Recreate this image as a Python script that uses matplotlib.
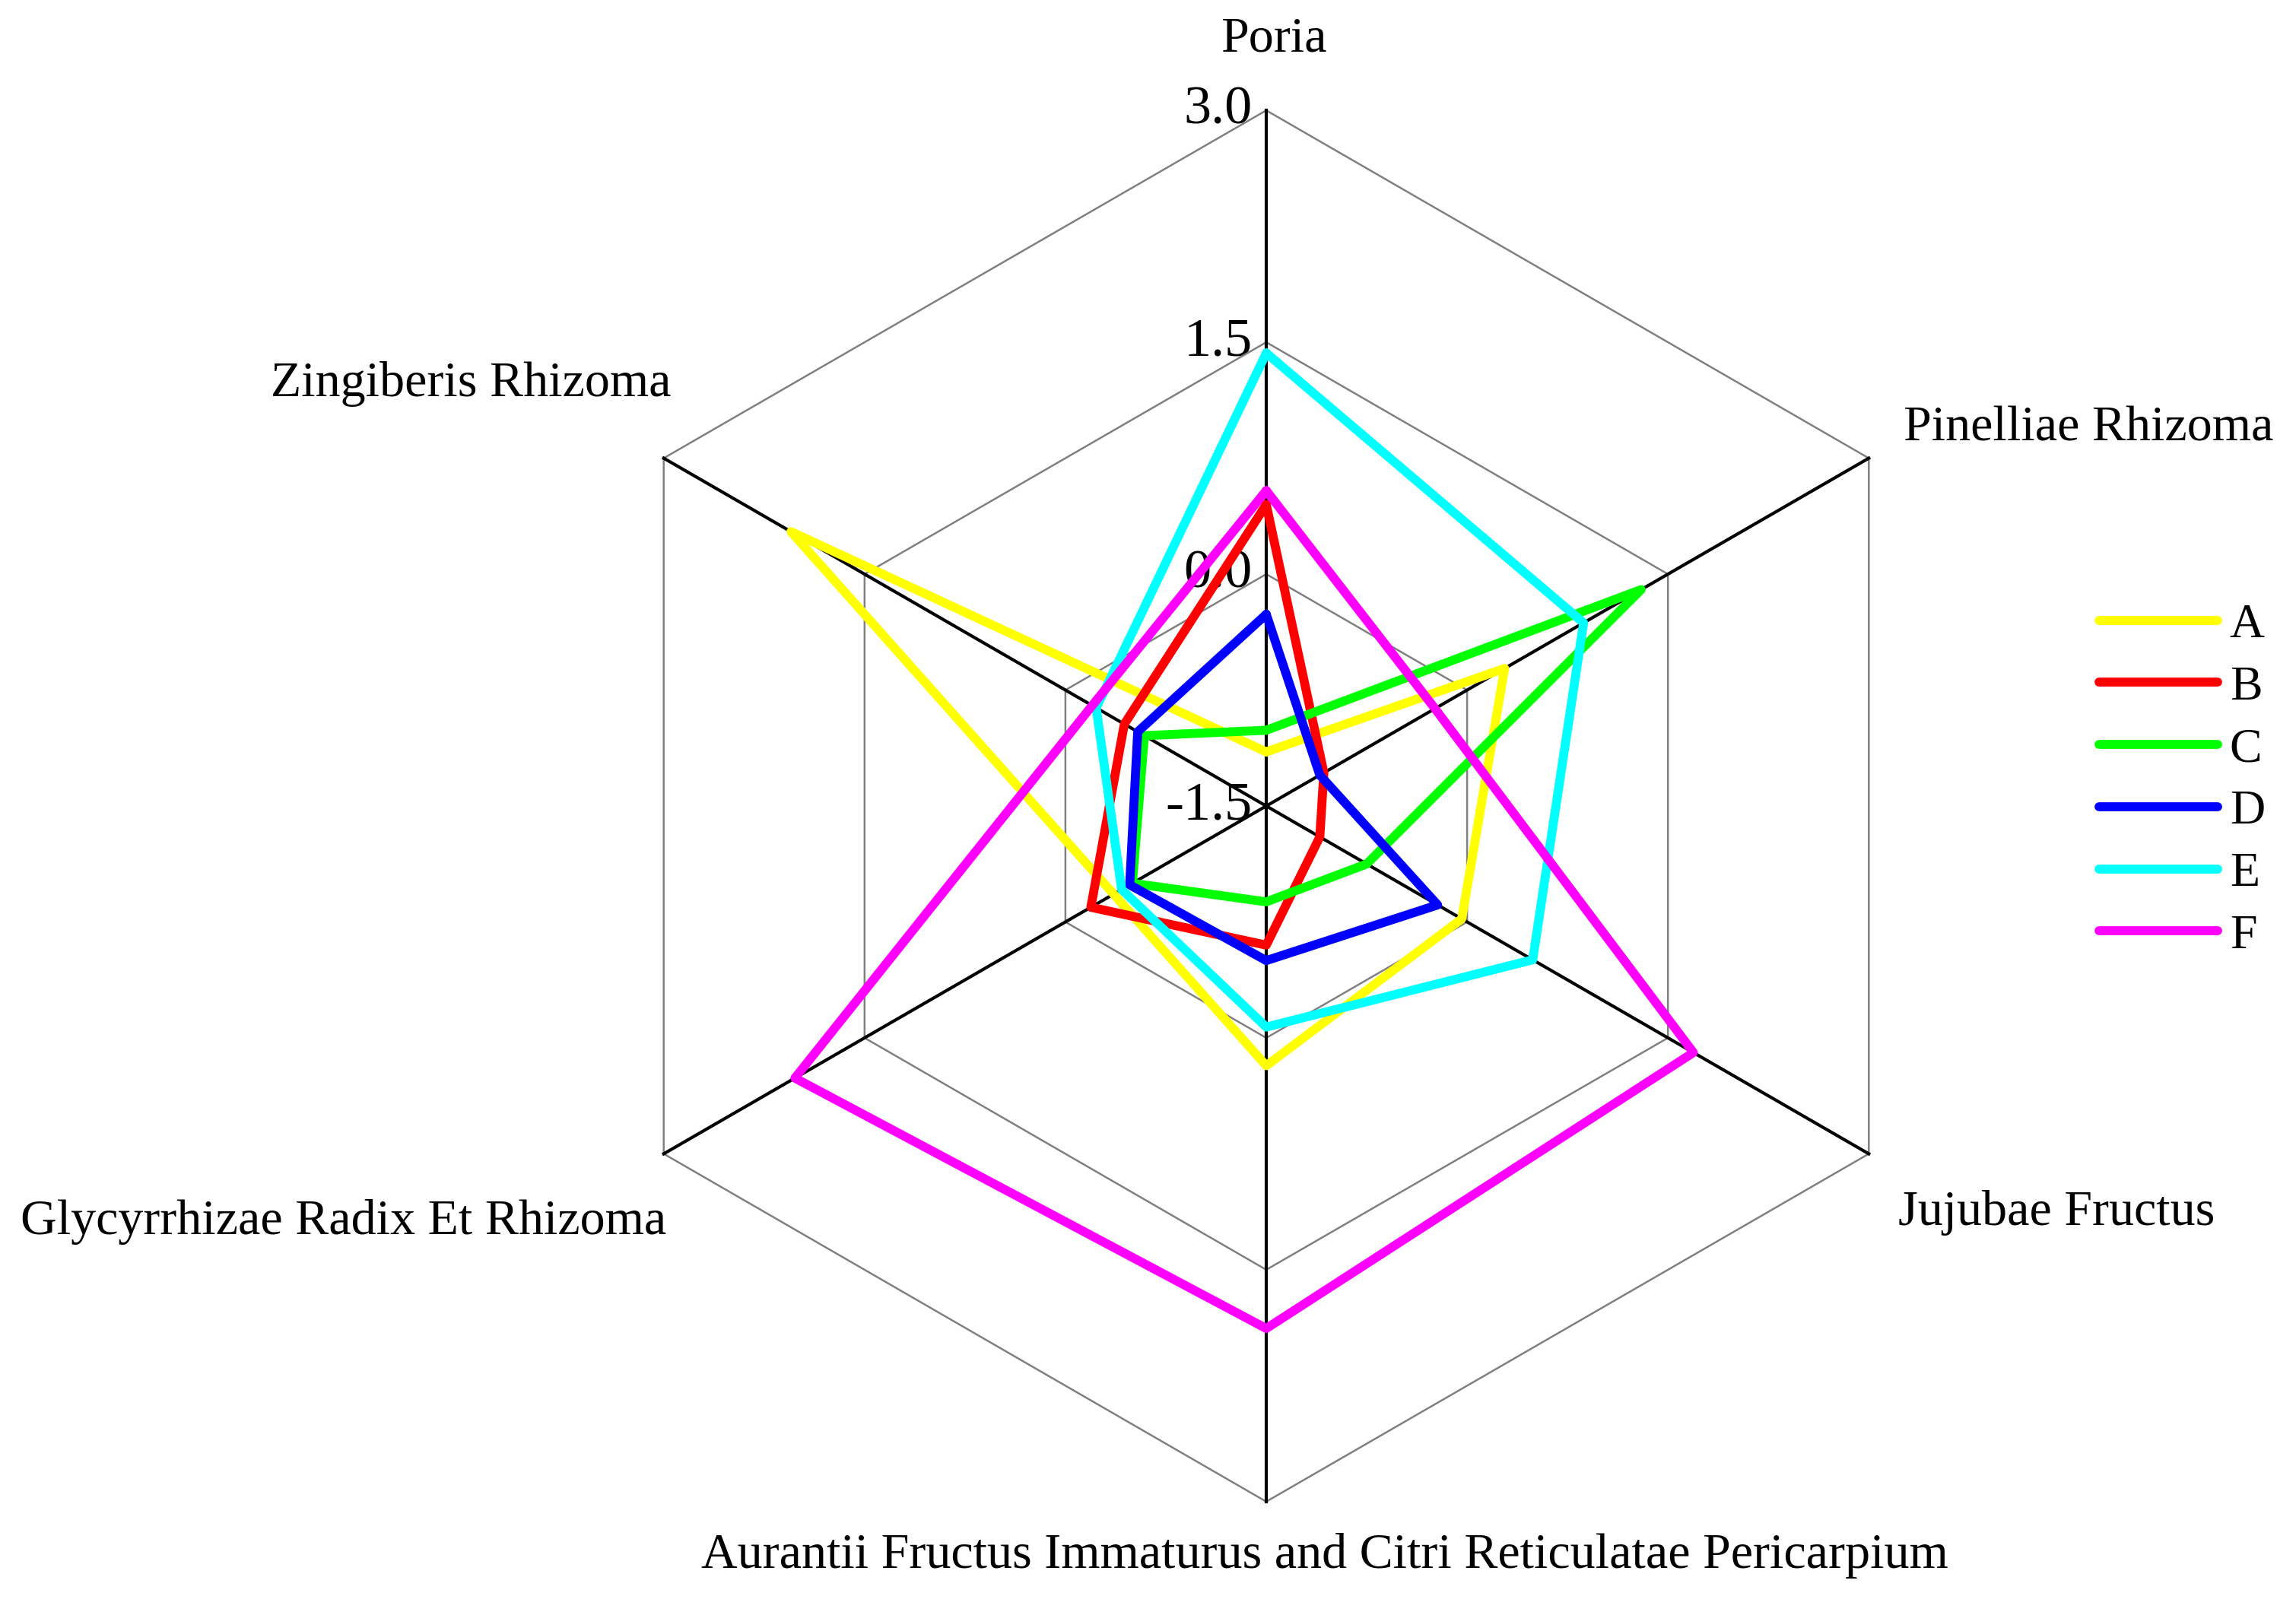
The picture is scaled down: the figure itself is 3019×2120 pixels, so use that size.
import numpy as np
import matplotlib
matplotlib.use("Agg")
import matplotlib.pyplot as plt

# radar data, axes go clockwise from the top
axis_names = ["Poria", "Pinelliae Rhizoma", "Jujubae Fructus",
              "Aurantii Fructus Immaturus and Citri Reticulatae Pericarpium",
              "Glycyrrhizae Radix Et Rhizoma", "Zingiberis Rhizoma"]
series_names = ["A", "B", "C", "D", "E", "F"]
A = [-1.15, 0.28, -0.04, 0.18, -0.36, 2.05]
B = [0.45, -1.07, -1.10, -0.60, -0.19, -0.44]
C = [-1.01, 1.30, -0.75, -0.88, -0.50, -0.59]
D = [-0.26, -1.10, -0.22, -0.50, -0.48, -0.54]
E = [1.43, 0.87, 0.49, -0.07, -0.42, -0.23]
F = [0.54, -0.24, 1.69, 1.88, 2.02, -0.20]
colors = ["#ffff00", "#ff0000", "#00ff00", "#0000ff", "#00ffff", "#ff00ff"]
ticks = [-1.5, 0.0, 1.5, 3.0]
rmin = -1.5

plt.rcParams['font.family'] = ['Liberation Serif', 'DejaVu Serif']

W, H = 3019, 2120
fig = plt.figure(figsize=(W / 100, H / 100), dpi=100)
ax = fig.add_axes([0, 0, 1, 1])
ppu = 203.3  # pixels per value unit
cx, cy = 1665, 1060
ax.set_xlim(-cx / ppu, (W - cx) / ppu)
ax.set_ylim(-(H - cy) / ppu, cy / ppu)
ax.axis('off')

ang = np.deg2rad([90, 30, -30, -90, -150, 150])
cs, sn = np.cos(ang), np.sin(ang)

def xy(vals):
    r = np.array(vals) - rmin
    x = r * cs
    y = r * sn
    return np.append(x, x[0]), np.append(y, y[0])

# grid hexagons
for t in ticks[1:]:
    gx, gy = xy([t] * 6)
    ax.plot(gx, gy, color="#808080", lw=1.8, zorder=1)
# spokes
R = ticks[-1] - rmin
for c, s in zip(cs, sn):
    ax.plot([0, R * c], [0, R * s], color="black", lw=3.0, zorder=1)

# tick labels
for t in ticks:
    ax.text(-0.09, t - rmin, f"{t:.1f}", ha='right', va='center',
            fontsize=52, zorder=0.5)

# axis labels
fs = 47.5
ax.text(0.05, 4.96, axis_names[0], ha='center', va='center', fontsize=fs)
ax.text(4.12, 2.44, axis_names[1], ha='left', va='center', fontsize=fs)
ax.text(4.09, -2.63, axis_names[2], ha='left', va='center', fontsize=fs)
ax.text(0.38, -4.85, axis_names[3], ha='center', va='center', fontsize=fs)
ax.text(-3.88, -2.69, axis_names[4], ha='right', va='center', fontsize=fs)
ax.text(-3.85, 2.73, axis_names[5], ha='right', va='center', fontsize=fs)

for vals, name, col in zip([A, B, C, D, E, F], series_names, colors):
    px, py = xy(vals)
    ax.plot(px, py, color=col, lw=8.5, label=name, solid_joinstyle='round',
            solid_capstyle='round', zorder=3)

ax.legend(loc='center left', bbox_to_anchor=(2760 / W, 1 - 1027 / H),
          frameon=False, fontsize=46, handlelength=2.44, handletextpad=0.25,
          labelspacing=0.36, borderpad=0, borderaxespad=0)

fig.savefig("out.png", dpi=100)
